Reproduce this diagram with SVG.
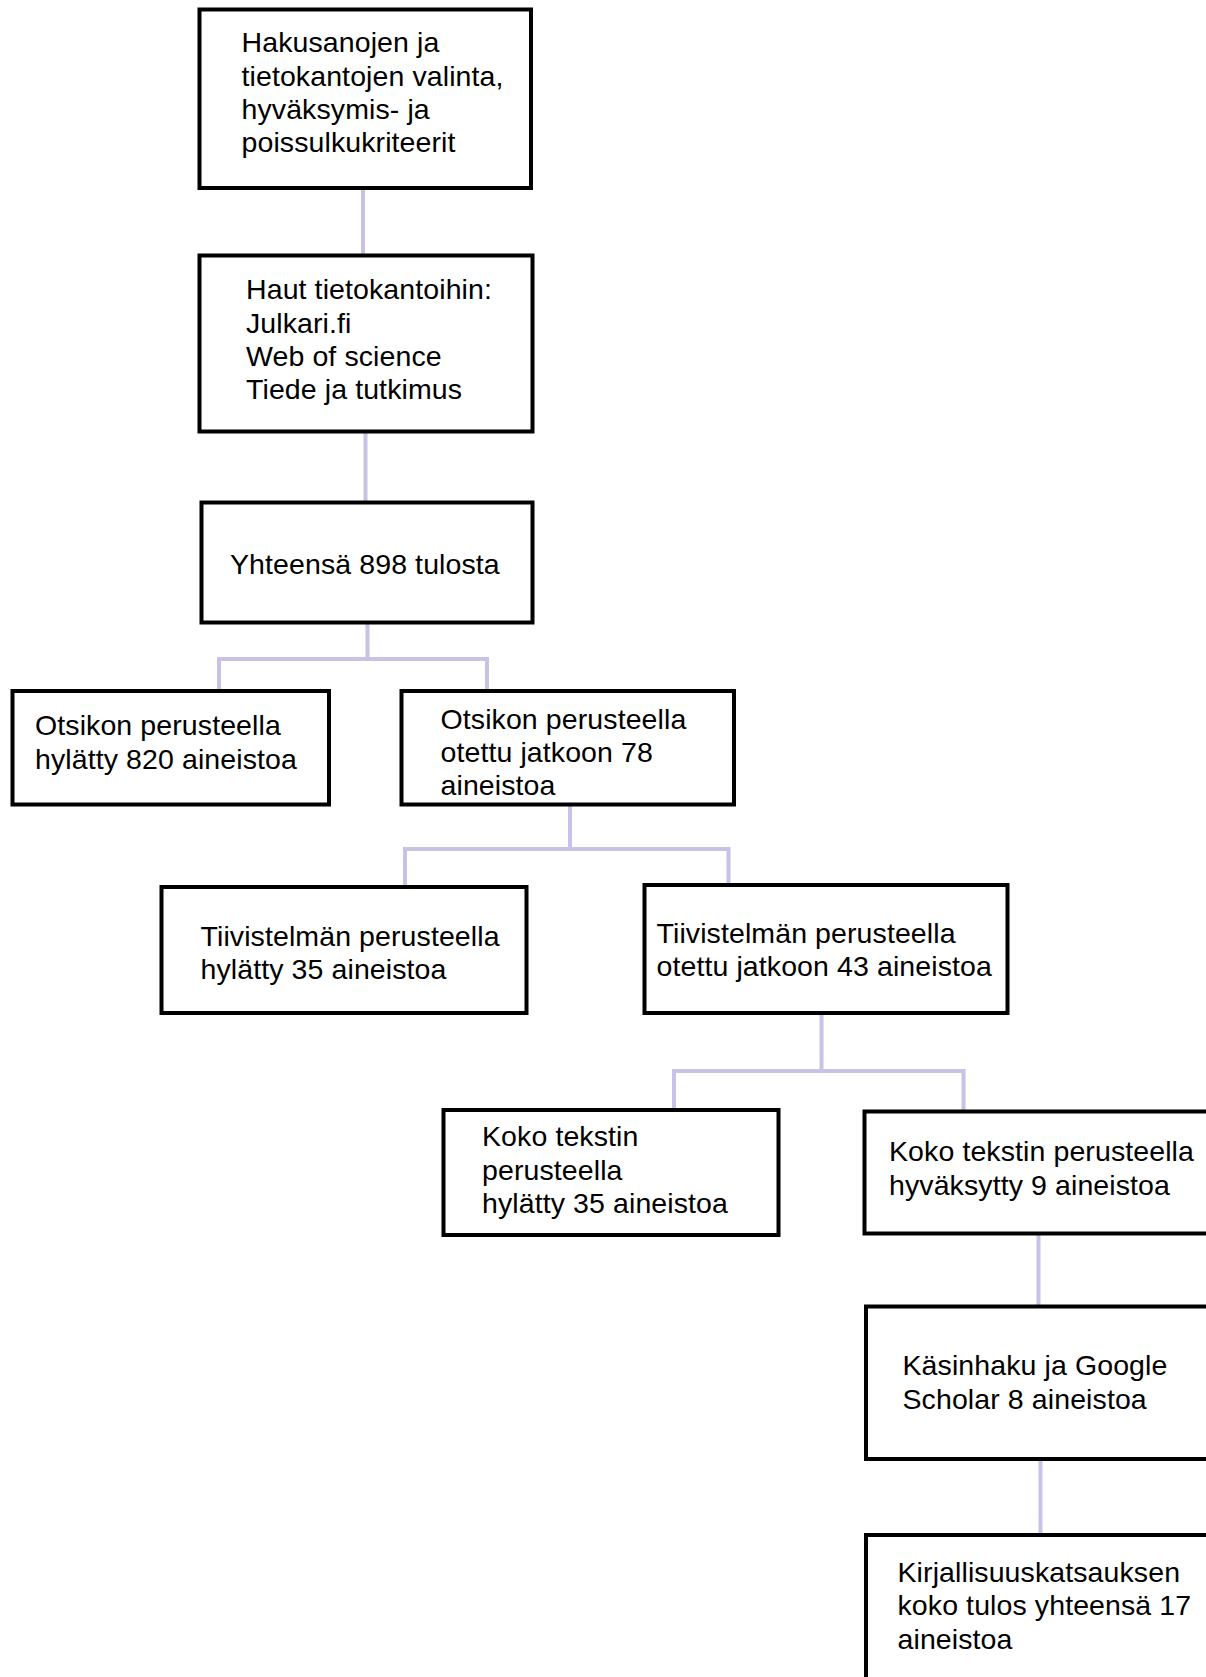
<svg xmlns="http://www.w3.org/2000/svg" width="1206" height="1677" viewBox="0 0 1206 1677">
<style>
.box{fill:#fff;stroke:#000;stroke-width:4}
.t{font-family:"Liberation Sans",Arial,sans-serif;font-size:28.5px;letter-spacing:0.1px;fill:#000}
.c{fill:none;stroke:#c8c2e6;stroke-width:4}
</style>
<rect width="1206" height="1677" fill="#fff"/>
<g id="connectors">
<path class="c" d="M363 188V255"/>
<path class="c" d="M365.5 432V503"/>
<path class="c" d="M367.5 622V659M219 691V659H487V691"/>
<path class="c" d="M570 804V849M405 887V849H728.5V885"/>
<path class="c" d="M821.5 1013V1071M674 1110V1071H963.5V1112"/>
<path class="c" d="M1038.5 1233V1307"/>
<path class="c" d="M1040.5 1459V1535"/>
</g>
<g id="n1"><rect class="box" x="199.5" y="9.5" width="331.5" height="178.5"/>
<text class="t" x="241.5"><tspan x="241.5" y="52">Hakusanojen ja</tspan><tspan x="241.5" y="85.5">tietokantojen valinta,</tspan><tspan x="241.5" y="119">hyväksymis- ja</tspan><tspan x="241.5" y="152">poissulkukriteerit</tspan></text></g>
<g id="n2"><rect class="box" x="199.5" y="255.5" width="333" height="176"/>
<text class="t"><tspan x="246" y="299">Haut tietokantoihin:</tspan><tspan x="246" y="332.5">Julkari.fi</tspan><tspan x="246" y="365.5">Web of science</tspan><tspan x="246" y="398.5">Tiede ja tutkimus</tspan></text></g>
<g id="n3"><rect class="box" x="201.5" y="502.5" width="331" height="120"/>
<text class="t" x="230" y="574">Yhteensä 898 tulosta</text></g>
<g id="n4"><rect class="box" x="12.5" y="691" width="316.5" height="113.5"/>
<text class="t"><tspan x="35" y="735">Otsikon perusteella</tspan><tspan x="35" y="768.5">hylätty 820 aineistoa</tspan></text></g>
<g id="n5"><rect class="box" x="401.5" y="691" width="332.5" height="113.5"/>
<text class="t"><tspan x="440.5" y="728.5">Otsikon perusteella</tspan><tspan x="440.5" y="762">otettu jatkoon 78</tspan><tspan x="440.5" y="795">aineistoa</tspan></text></g>
<g id="n6"><rect class="box" x="161.5" y="887" width="365" height="126"/>
<text class="t"><tspan x="200.5" y="945.5">Tiivistelmän perusteella</tspan><tspan x="200.5" y="979">hylätty 35 aineistoa</tspan></text></g>
<g id="n7"><rect class="box" x="644.5" y="885" width="363" height="128"/>
<text class="t"><tspan x="656.5" y="943">Tiivistelmän perusteella</tspan><tspan x="656.5" y="976">otettu jatkoon 43 aineistoa</tspan></text></g>
<g id="n8"><rect class="box" x="443.5" y="1110" width="335" height="125"/>
<text class="t"><tspan x="482" y="1146">Koko tekstin</tspan><tspan x="482" y="1179.5">perusteella</tspan><tspan x="482" y="1212.5">hylätty 35 aineistoa</tspan></text></g>
<g id="n9"><rect class="box" x="864.5" y="1111.5" width="360" height="122"/>
<text class="t"><tspan x="889" y="1160.5">Koko tekstin perusteella</tspan><tspan x="889" y="1195">hyväksytty 9 aineistoa</tspan></text></g>
<g id="n10"><rect class="box" x="866" y="1306.5" width="360" height="152.5"/>
<text class="t"><tspan x="902.5" y="1375">Käsinhaku ja Google</tspan><tspan x="902.5" y="1408.5">Scholar 8 aineistoa</tspan></text></g>
<g id="n11"><rect class="box" x="866" y="1535" width="360" height="170"/>
<text class="t"><tspan x="897.5" y="1581.5">Kirjallisuuskatsauksen</tspan><tspan x="897.5" y="1615">koko tulos yhteensä 17</tspan><tspan x="897.5" y="1648.5">aineistoa</tspan></text></g>
</svg>
